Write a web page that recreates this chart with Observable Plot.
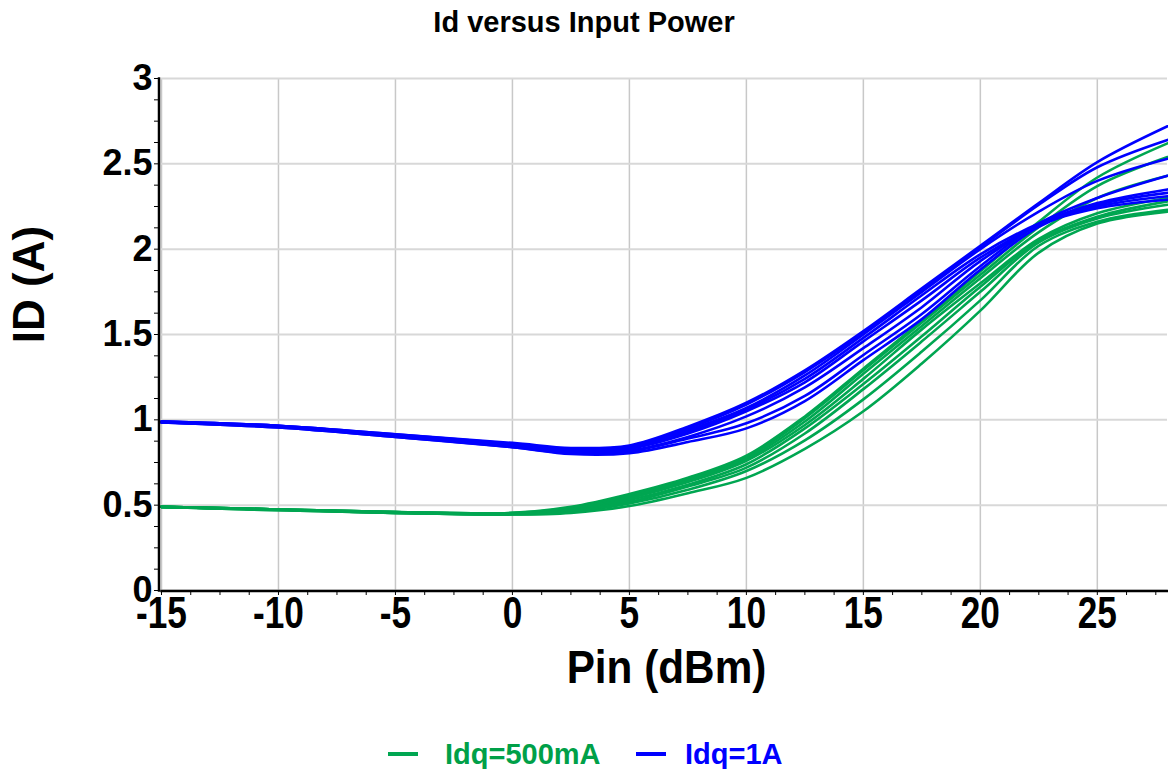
<!DOCTYPE html>
<html>
<head>
<meta charset="utf-8">
<script src="https://cdn.jsdelivr.net/npm/d3@7"></script>
<script src="https://cdn.jsdelivr.net/npm/@observablehq/plot@0.6"></script>
<style>
  html, body { margin: 0; padding: 0; background: #fff; }
  #wrap { position: relative; width: 1168px; height: 769px; font-family: "Liberation Sans", Arial, sans-serif; }
  #title { position: absolute; left: 0; width: 1168px; top: 8px; text-align: center; font-weight: bold; font-size: 29px; line-height: 29px; color: #000; }
  #chart { position: absolute; left: 0; top: 44px; }
  .lg-line { position: absolute; height: 4px; width: 30px; top: 752px; }
  .lg-text { position: absolute; top: 740px; font-weight: bold; font-size: 29px; line-height: 29px; white-space: nowrap; }
</style>
</head>
<body>
<div id="wrap">
  <div id="title">Id versus Input Power</div>
  <div id="chart"></div>
  <div id="legend"></div>
</div>
<script>
// ---- Data ----
const pin = [-15, -10, -5, 0, 2.5, 5, 7.5, 10, 12.5, 15, 17.5, 20, 22.5, 25, 28];

// Idq = 500 mA curves
const idq500_1 = [0.49, 0.475, 0.46, 0.455, 0.49, 0.565, 0.66, 0.79, 1.02, 1.30, 1.58, 1.87, 2.16, 2.42, 2.62];
const idq500_2 = [0.49, 0.475, 0.46, 0.455, 0.485, 0.56, 0.655, 0.78, 1.01, 1.29, 1.57, 1.85, 2.13, 2.37, 2.54];
const idq500_3 = [0.49, 0.475, 0.46, 0.45, 0.48, 0.55, 0.645, 0.77, 0.99, 1.27, 1.55, 1.83, 2.10, 2.30, 2.43];
const idq500_4 = [0.49, 0.475, 0.46, 0.45, 0.475, 0.54, 0.635, 0.76, 0.97, 1.24, 1.53, 1.80, 2.06, 2.21, 2.30];
const idq500_5 = [0.49, 0.475, 0.455, 0.45, 0.47, 0.53, 0.62, 0.74, 0.95, 1.21, 1.49, 1.78, 2.05, 2.19, 2.28];
const idq500_6 = [0.49, 0.475, 0.455, 0.45, 0.465, 0.52, 0.61, 0.72, 0.92, 1.18, 1.46, 1.75, 2.04, 2.18, 2.26];
const idq500_7 = [0.49, 0.47, 0.455, 0.445, 0.46, 0.51, 0.59, 0.70, 0.88, 1.12, 1.40, 1.70, 2.02, 2.16, 2.23];
const idq500_8 = [0.49, 0.47, 0.455, 0.445, 0.455, 0.495, 0.57, 0.66, 0.83, 1.05, 1.33, 1.64, 1.98, 2.15, 2.22];

// Idq = 1 A curves
const idq1A_1 = [0.99, 0.965, 0.915, 0.865, 0.835, 0.85, 0.96, 1.10, 1.29, 1.52, 1.77, 2.02, 2.27, 2.51, 2.72];
const idq1A_2 = [0.99, 0.965, 0.915, 0.86, 0.83, 0.845, 0.95, 1.09, 1.28, 1.51, 1.76, 2.01, 2.26, 2.48, 2.64];
const idq1A_3 = [0.99, 0.965, 0.91, 0.855, 0.825, 0.84, 0.94, 1.07, 1.26, 1.50, 1.75, 2.00, 2.22, 2.40, 2.53];
const idq1A_4 = [0.99, 0.96, 0.91, 0.85, 0.82, 0.835, 0.93, 1.06, 1.24, 1.48, 1.73, 1.97, 2.15, 2.27, 2.35];
const idq1A_5 = [0.985, 0.96, 0.905, 0.85, 0.815, 0.83, 0.92, 1.05, 1.22, 1.46, 1.70, 1.95, 2.14, 2.25, 2.31];
const idq1A_6 = [0.985, 0.96, 0.905, 0.845, 0.81, 0.82, 0.90, 1.02, 1.19, 1.42, 1.66, 1.93, 2.14, 2.24, 2.29];
const idq1A_7 = [0.985, 0.955, 0.90, 0.84, 0.805, 0.815, 0.89, 0.98, 1.14, 1.38, 1.62, 1.90, 2.15, 2.30, 2.43];
const idq1A_8 = [0.985, 0.955, 0.90, 0.84, 0.80, 0.805, 0.87, 0.95, 1.11, 1.35, 1.59, 1.88, 2.13, 2.26, 2.33];

const seriesNames = ["Idq=500mA", "Idq=1A"];
const xTicks = [-15, -10, -5, 0, 5, 10, 15, 20, 25];
const yTicks = [0, 0.5, 1, 1.5, 2, 2.5, 3];
const xTitle = "Pin (dBm)";
const yTitle = "ID (A)";

// ---- Build table ----
const groups = [
  [seriesNames[0], [idq500_1, idq500_2, idq500_3, idq500_4, idq500_5, idq500_6, idq500_7, idq500_8]],
  [seriesNames[1], [idq1A_1, idq1A_2, idq1A_3, idq1A_4, idq1A_5, idq1A_6, idq1A_7, idq1A_8]]
];
const rows = [];
groups.forEach(([name, curves]) => {
  curves.forEach((vals, ci) => {
    vals.forEach((v, j) => rows.push({pin: pin[j], id: v, series: name, curve: name + "_" + ci}));
  });
});

const green = "#00A651";
const blue = "#0000FF";
const xMinor = d3.range(-15, 28.001, 1.25);
const yMinor = d3.range(0, 3.0001, 0.125);

const chart = Plot.plot({
  width: 1168,
  height: 656,
  marginLeft: 161,
  marginRight: 1,
  marginTop: 34,
  marginBottom: 110,
  style: {fontFamily: "'Liberation Sans', Arial, sans-serif", background: "white", overflow: "visible"},
  x: {domain: [-15, 28], label: null},
  y: {domain: [0, 3], label: null},
  color: {domain: seriesNames, range: [green, blue]},
  marks: [
    Plot.gridX(xTicks, {stroke: "#c8c8c8", strokeOpacity: 1, strokeWidth: 1.5}),
    Plot.gridY(yTicks, {stroke: "#d8d8d8", strokeOpacity: 1, strokeWidth: 2}),
    Plot.line(rows, {x: "pin", y: "id", z: "curve", stroke: "series", strokeWidth: 2.6, curve: "catmull-rom"}),
    Plot.axisX(xMinor, {tickSize: 4, fill: "none", stroke: "black", strokeWidth: 1, dy: 1}),
    Plot.axisY(yMinor, {tickSize: 5, fill: "none", stroke: "black", strokeWidth: 1, dx: -2}),
    Plot.axisX(xTicks, {tickSize: 0, tickPadding: 6, tickFormat: d => String(d), fontSize: 44, fontWeight: "bold", fill: "black"}),
    Plot.axisY(yTicks, {tickSize: 0, tickPadding: 9, tickFormat: d => String(d), fontSize: 36, fontWeight: "bold", fill: "black"}),
    Plot.frame({anchor: "left", stroke: "black", strokeWidth: 2.5, dx: -2.5}),
    Plot.frame({anchor: "bottom", stroke: "black", strokeWidth: 2.5, dy: 0.5}),
    Plot.text([xTitle], {frameAnchor: "bottom", lineAnchor: "middle", textAnchor: "middle", dy: 77, dx: 2, fontSize: 47, fontWeight: "bold"}),
    Plot.text([yTitle], {frameAnchor: "left", lineAnchor: "middle", textAnchor: "middle", rotate: -90, dx: -132, dy: -50, fontSize: 44, fontWeight: "bold"})
  ]
});
document.getElementById("chart").appendChild(chart);

// condensed lettering for the x tick labels and the x title (texts lying below the plot frame)
const svgTop = chart.getBoundingClientRect().top;
d3.select(chart).selectAll("text").each(function () {
  const r = this.getBoundingClientRect();
  const cy = (r.top + r.bottom) / 2 - svgTop;
  if (cy > 546 + 8) {
    const isTitle = this.textContent === xTitle;
    const k = isTitle ? 0.9 : 0.8;
    const b = this.getBBox();
    const cx = b.x + b.width / 2;
    const t = this.getAttribute("transform") || "";
    this.setAttribute("transform", `${t} translate(${cx},0) scale(${k},1) translate(${-cx},0)`);
  }
});

// ---- Legend (HTML, below the SVG) ----
const legend = document.getElementById("legend");
const legendItems = [
  {label: seriesNames[0], line: green, text: "#00A048", lineX: 388, textX: 445},
  {label: seriesNames[1], line: blue, text: "#0000FF", lineX: 636, textX: 685}
];
legendItems.forEach(it => {
  const l = document.createElement("div");
  l.className = "lg-line";
  l.style.left = it.lineX + "px";
  l.style.background = it.line;
  legend.appendChild(l);
  const t = document.createElement("div");
  t.className = "lg-text";
  t.style.left = it.textX + "px";
  t.style.color = it.text;
  t.textContent = it.label;
  legend.appendChild(t);
});
</script>
</body>
</html>
